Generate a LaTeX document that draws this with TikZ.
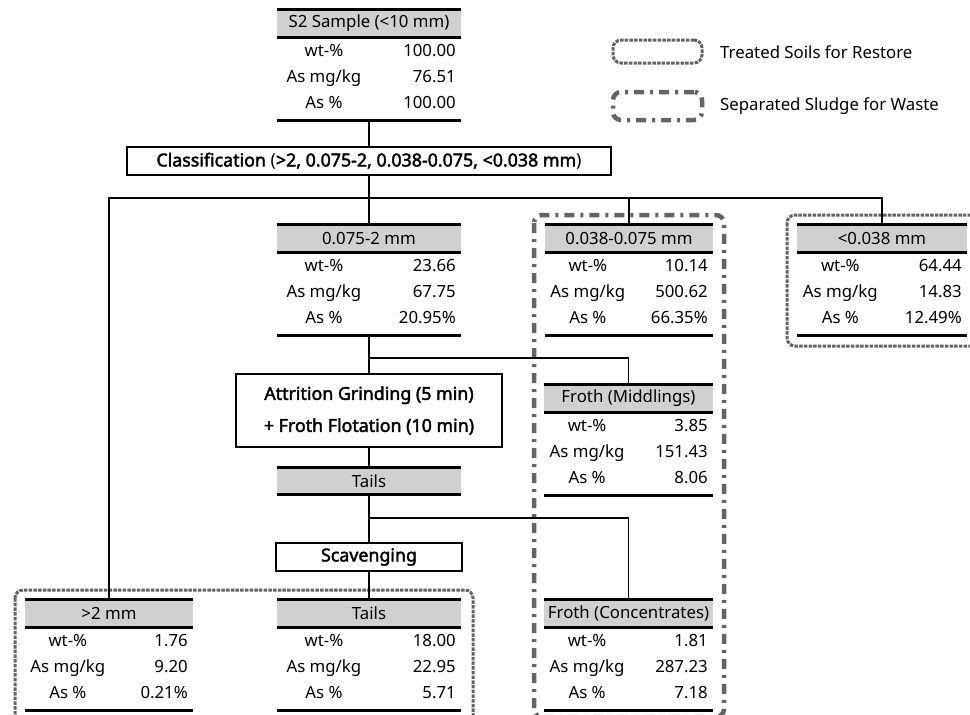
\documentclass[tikz,border=0pt]{standalone}
\usepackage{fontspec}
\setmainfont{Noto Sans}[AutoFakeBold=2.2]
\definecolor{hdrgray}{RGB}{208,208,208}
\definecolor{boxgray}{RGB}{100,100,100}
\newcommand\myfs{\fontsize{16.8}{20}\selectfont}
\newcommand\mybfs{\bfseries\fontsize{17.8}{32}\selectfont}
\tikzset{
  every node/.style={font=\myfs, inner sep=0pt},
  hdr/.style={fill=hdrgray, minimum height=27pt, inner sep=0pt},
  thickrule/.style={line width=3pt},
  conn/.style={line width=1.3pt},
  procbox/.style={draw, line width=1.2pt, fill=white, inner sep=0pt, font=\mybfs},
  lbl/.style={anchor=base, inner sep=0pt},
  val/.style={anchor=base east, inner sep=0pt},
  soilbox/.style={draw=boxgray, line width=3pt, dash pattern=on 3.5pt off 1.2pt, rounded corners=8pt},
  sludgebox/.style={draw=boxgray, line width=4.5pt, dash pattern=on 10pt off 6pt on 3pt off 6pt, rounded corners=8pt},
}
% name, left, right, top, header, wt, mg, pct
\newcommand\datatable[8]{%
  \pgfmathsetmacro\tcx{(#2+#3)/2}%
  \pgfmathsetmacro\tw{#3-#2}%
  \pgfmathsetmacro\tlx{#2+0.255*(#3-#2)}%
  \pgfmathsetmacro\tvx{#3-5}%
  \node[hdr, minimum width=\tw pt] (#1) at (\tcx,#4+13.5) {#5};
  \draw[thickrule] (#1.north west) -- (#1.north east);
  \draw[thickrule] (#1.south west) -- (#1.south east);
  \node[lbl] (#1-l1) at (\tlx,#4+46) {wt-\%};
  \node[lbl] (#1-l2) at (\tlx,#4+72) {As mg/kg};
  \node[lbl] (#1-l3) at (\tlx,#4+98) {As \%};
  \node[val] (#1-v1) at (\tvx,#4+46) {#6};
  \node[val] (#1-v2) at (\tvx,#4+72) {#7};
  \node[val] (#1-v3) at (\tvx,#4+98) {#8};
  \coordinate (#1-b) at (\tcx,#4+110);
  \draw[thickrule] (#2,#4+110) -- (#3,#4+110);
}
\begin{document}
\begin{tikzpicture}[x=1pt,y=-1pt]
\useasboundingbox (0,0) rectangle (970,715);

% region boxes
\draw[sludgebox] (534,215) rectangle (724,717);
\draw[soilbox] (787,215) rectangle (990,346);
\draw[soilbox] (15,590) rectangle (473,735);

% legend
\node[soilbox, minimum width=89pt, minimum height=23pt] (leg1) at (657.5,51.5) {};
\node[anchor=west] (leg1t) at (720,52) {Treated Soils for Restore};
\node[sludgebox, minimum width=89pt, minimum height=28pt] (leg2) at (657.5,106) {};
\node[anchor=west] (leg2t) at (720,106) {Separated Sludge for Waste};

% process boxes
\node[procbox, minimum width=484pt, minimum height=28pt] (cls) at (369,161)
  {Classification {\mdseries(}{>}2, 0.075-2, 0.038-0.075, {<}0.038 mm{\mdseries)}};
\node[procbox, minimum width=266pt, minimum height=73pt, align=center] (attr) at (369,410.5)
  {Attrition Grinding (5 min)\\+ Froth Flotation (10 min)};
\node[hdr, minimum width=184pt] (tails1) at (369,481) {Tails};
\draw[thickrule] (tails1.north west) -- (tails1.north east);
\draw[thickrule] (tails1.south west) -- (tails1.south east);
\node[procbox, minimum width=186pt, minimum height=28pt] (scav) at (369,557) {Scavenging};

% tables
\datatable{s2}{277}{461}{10}{S2 Sample (<10 mm)}{100.00}{76.51}{100.00}
\datatable{sz2}{277}{461}{225}{0.075-2 mm}{23.66}{67.75}{20.95\%}
\datatable{sz3}{545}{713}{225}{0.038-0.075 mm}{10.14}{500.62}{66.35\%}
\datatable{sz4}{797}{967}{225}{<0.038 mm}{64.44}{14.83}{12.49\%}
\datatable{mid}{544}{713}{385}{Froth (Middlings)}{3.85}{151.43}{8.06}
\datatable{gt2}{25}{193}{600}{>2 mm}{1.76}{9.20}{0.21\%}
\datatable{tails2}{277}{461}{600}{Tails}{18.00}{22.95}{5.71}
\datatable{conc}{544}{713}{600}{Froth (Concentrates)}{1.81}{287.23}{7.18}

% connectors
\coordinate (j1) at (369,198);
\coordinate (j2) at (369,358);
\coordinate (j3) at (369,518);
\draw[conn] (s2-b) -- (cls.north);
\draw[conn] (cls.south) -- (sz2.north);
\draw[conn] (gt2.north) |- (j1) -| (sz4.north);
\draw[conn] (j1) -| (sz3.north);
\draw[conn] (sz2-b) -- (attr.north);
\draw[conn] (j2) -| (mid.north);
\draw[conn] (attr.south) -- (tails1.north);
\draw[conn] (tails1.south) -- (scav.north);
\draw[conn] (j3) -| (conc.north);
\draw[conn] (scav.south) -- (tails2.north);
\end{tikzpicture}
\end{document}
